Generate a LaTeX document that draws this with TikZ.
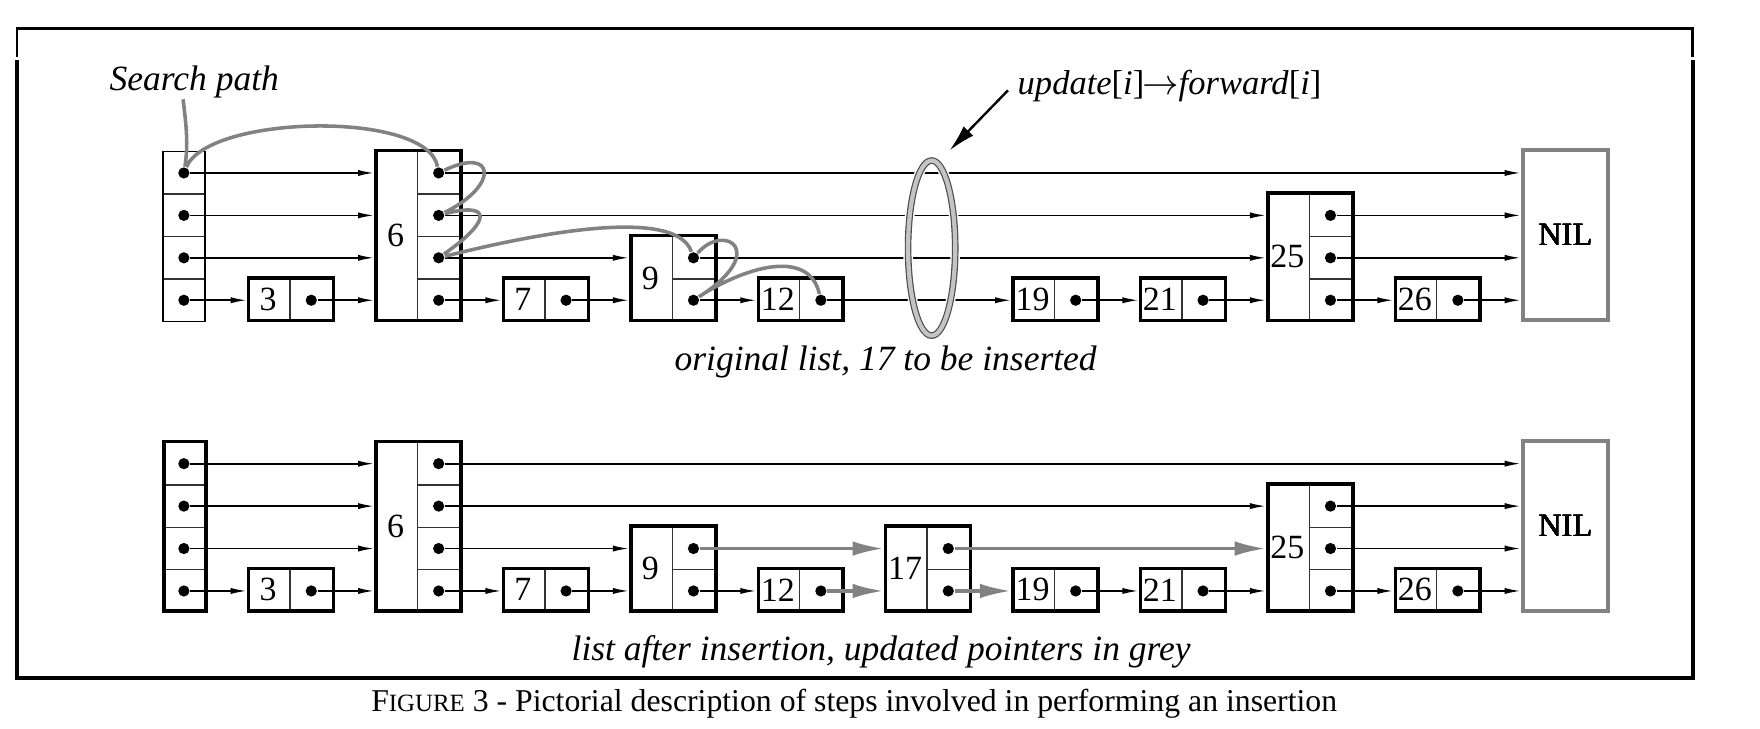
\documentclass[tikz,border=0pt]{standalone}
\usepackage{fontspec}
\setmainfont{Liberation Serif}
\definecolor{SLgray}{HTML}{828282}
\definecolor{SLring}{HTML}{C4C4C4}
\usetikzlibrary{arrows.meta, calc, positioning, shapes.geometric}

\tikzset{
  elem/.style={draw, line width=0.9pt, inner sep=0pt, minimum width=7.56mm, anchor=south west},
  headthin/.style={draw, line width=0.4pt, inner sep=0pt, minimum width=3.78mm, minimum height=15.12mm, anchor=south west},
  headthick/.style={headthin, line width=0.9pt},
  ptrcell/.style={draw=black!80, line width=0.35pt, inner sep=0pt, minimum size=3.78mm, anchor=south west},
  ptrdot/.style={circle, fill, inner sep=0pt, minimum size=1.0mm},
  keytext/.style={inner sep=0pt, font=\fontsize{8.6}{10}\selectfont},
  nilbox/.style={draw=SLgray, line width=1pt, inner sep=0pt, minimum width=7.56mm, minimum height=15.12mm, anchor=south west, font=\fontsize{8.2}{10}\selectfont},
  ptr/.style={line width=0.45pt, -{Latex[length=1.45mm, width=0.55mm]}},
  newptr/.style={SLgray, line width=0.9pt, -{Latex[length=2.8mm, width=1.3mm]}},
  search/.style={SLgray, line width=0.9pt},
  updarrow/.style={line width=0.6pt, -{Latex[length=2.4mm, width=1.2mm]}},
  ring/.style={ellipse, inner sep=0pt, minimum width=4.2mm, minimum height=15.6mm, draw=black!70, line width=0.3pt, double=SLring, double distance=0.38mm, preaction={draw=white, line width=0.85mm}},
  note/.style={inner sep=0pt, font=\fontsize{9}{11}\selectfont\itshape},
  captext/.style={inner sep=0pt, font=\fontsize{8.05}{10}\selectfont},
}

% prefix, key, left x, bottom y, levels
\newcommand{\slnode}[5]{%
  \foreach \i in {1,...,#5} {
    \node[ptrcell] (#1#2-c\i) at (#3+3.78,#4-\i*3.78+3.78) {};
    \node[ptrdot] (#1#2-\i) at (#1#2-c\i.center) {};
  }
  \node[elem, minimum height=#5*3.78mm] (#1#2) at (#3,#4) {};
  \node[keytext] (#1#2-k) at ([xshift=1.89mm]#1#2.west) {#2};
}

\begin{document}
\begin{tikzpicture}[x=1mm, y=-1mm]
  \useasboundingbox (0,0) rectangle (156.8,64.9);
  % frame
  \draw[line width=0.6pt] (1.5,5.05) -- (1.5,2.55) -- (150.8,2.55) -- (150.8,5.05);
  \draw[line width=1pt] (1.5,5.35) -- (1.5,60.4) -- (150.8,60.4) -- (150.8,5.35);

  % both lists
  \foreach \p/\yb/\st in {t/28.7/headthin, b/54.6/headthick} {
    \foreach \i in {1,...,4} {
      \node[ptrcell] (\p head-c\i) at (14.43,\yb-\i*3.78+3.78) {};
      \node[ptrdot] (\p head-\i) at (\p head-c\i.center) {};
    }
    \node[\st] (\p head) at (14.43,\yb) {};
    \foreach \key/\x/\h in {3/22.0/1, 6/33.35/4, 7/44.7/1, 9/56.05/2, 12/67.4/1,
                            19/90.1/1, 21/101.45/1, 25/112.8/3, 26/124.15/1}
      \slnode{\p}{\key}{\x}{\yb}{\h}
    \node[nilbox] (\p nil) at (135.5,\yb) {NIL};
  }
  \slnode{b}{17}{78.75}{54.6}{2}

  \foreach \p in {t,b}
    \foreach \src/\dst/\lv in {head/3/1, 3/6/1, 6/7/1, 7/9/1, 9/12/1, 19/21/1, 21/25/1,
                               25/26/1, 26/nil/1, head/6/2, 6/9/2, 25/nil/2,
                               head/6/3, 6/25/3, 25/nil/3, head/6/4, 6/nil/4}
      \draw[ptr] (\p\src-\lv) -- (\p\src-\lv -| \p\dst.west);
  \draw[ptr] (t12-1) -- (t12-1 -| t19.west);
  \draw[ptr] (t9-2) -- (t9-2 -| t25.west);
  \foreach \src/\dst/\lv in {12/17/1, 17/19/1, 9/17/2, 17/25/2}
    \draw[newptr] (b\src-\lv) -- (b\src-\lv -| b\dst.west);

  % update[i] pointers
  \node[ring] (ring) at (83.0,22.1) {};
  \node[note, font=\fontsize{8.75}{11}\selectfont\itshape, anchor=base west] (upd) at (90.6,8.45)
    {update\textup{[}i\textup{]}$\mkern-1mu\rightarrow$forward\textup{[}i\textup{]}};
  \coordinate (ringtip) at (84.6,13.4);
  \draw[updarrow] ([shift={(-0.8mm,0.4mm)}]upd.base west) -- (ringtip);

  % search path
  \node[note, anchor=base west] (sp) at (9.7,8.1) {Search path};
  \draw[search] ([xshift=-1mm]sp.south) .. controls +(0.3,2.5) and +(0.4,-2.5) .. (thead-4)
    .. controls +(2.2,-5.2) and +(-1.0,-5.6) .. (t6-4)
    .. controls +(5.0,-2.4) and +(5.5,-2.7) .. (t6-3)
    .. controls +(4.5,-1.2) and +(5.0,-3.5) .. (t6-2)
    .. controls +(6.0,-1.5) and +(-1.7,-5.0) .. (t9-2)
    .. controls +(2.8,-3.2) and +(6.8,-4.3) .. (t9-1)
    .. controls +(4.3,-2.8) and +(-1.1,-4.8) .. (t12-1);

  \node[note, anchor=base] (orig) at (78.9,33.0) {original list, 17 to be inserted};
  \node[note, anchor=base] (after) at (78.5,58.8) {list after insertion, updated pointers in grey};
  \node[captext, anchor=base] (cap) at (76.1,63.4)
    {F{\fontsize{6.3}{8}\selectfont IGURE} 3 - Pictorial description of steps involved in performing an insertion};
\end{tikzpicture}
\end{document}
